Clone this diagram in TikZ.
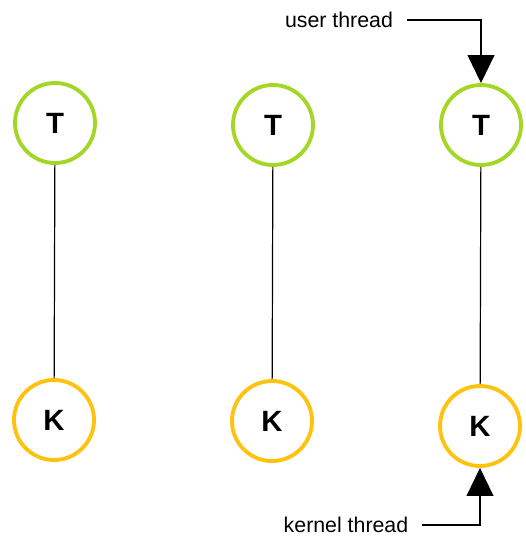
\documentclass[tikz,border=0pt]{standalone}
\usepackage{fontspec}
\setmainfont{Liberation Sans}
\usetikzlibrary{arrows.meta}
\definecolor{userring}{RGB}{164,214,38}
\definecolor{kernring}{RGB}{255,194,14}
\tikzset{
  thr/.style={circle, line width=2.9pt, minimum size=60pt, inner sep=0pt,
    font=\fontsize{22}{22}\selectfont\bfseries},
  uthr/.style={thr, draw=userring},
  kthr/.style={thr, draw=kernring},
  link/.style={line width=0.9pt},
  lbl/.style={font=\fontsize{16}{16}\selectfont, inner sep=0pt},
  callout/.style={line width=1.5pt, -{Triangle[width=20pt,length=21pt]}}
}
\begin{document}
\begin{tikzpicture}[x=0.75pt,y=-0.75pt]
  \useasboundingbox (0,0) rectangle (525,539);
  % user threads
  \node[uthr] (T1) at (55,123) {T};
  \node[uthr] (T2) at (273,125) {T};
  \node[uthr] (T3) at (481,125) {T};
  % kernel threads
  \node[kthr] (K1) at (54,420) {K};
  \node[kthr] (K2) at (272,421) {K};
  \node[kthr] (K3) at (480,426) {K};
  % one-to-one mapping
  \draw[link] (T1) -- (K1);
  \draw[link] (T2) -- (K2);
  \draw[link] (T3) -- (K3);
  % labels with pointers
  \node[lbl] (ut) at (339,20) {user thread};
  \node[lbl] (kt) at (346,525) {kernel thread};
  \draw[callout, shorten <=10pt] (ut.east) -| (T3.north);
  \draw[callout, shorten <=10pt] (kt.east) -| (K3.south);
\end{tikzpicture}
\end{document}
